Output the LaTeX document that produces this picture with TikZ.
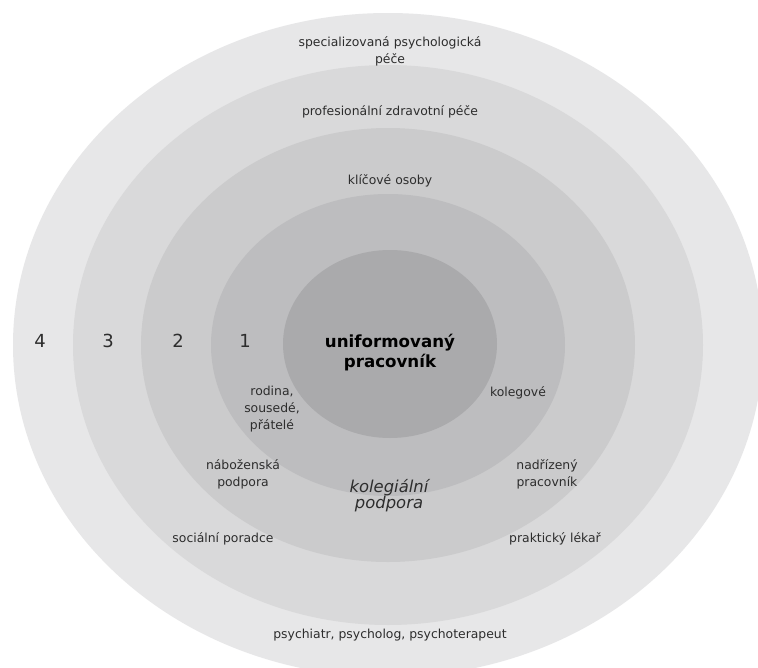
\documentclass[tikz,border=0pt]{standalone}
\usepackage{fontspec}
\setmainfont{DejaVu Sans}
\definecolor{ringfour}{RGB}{231,231,232}
\definecolor{ringthree}{RGB}{217,217,218}
\definecolor{ringtwo}{RGB}{203,203,204}
\definecolor{ringone}{RGB}{189,189,191}
\definecolor{core}{RGB}{170,170,172}
\definecolor{txt}{RGB}{45,45,45}
\begin{document}
\begin{tikzpicture}[x=0.75pt,y=-0.75pt,
  lbl/.style={text=txt,align=center,font=\fontsize{9.3}{12.5}\selectfont,inner sep=0pt},
  num/.style={text=txt,font=\fontsize{13.5}{14}\selectfont,inner sep=0pt}]
\useasboundingbox (0,0) rectangle (758,668);
\clip (0,0) rectangle (758,668);
\fill[white] (0,0) rectangle (758,668);
\coordinate (O) at (388,345);
\fill[ringfour] (O) ellipse [x radius=375, y radius=332];
\fill[ringthree] (O) ellipse [x radius=315, y radius=280];
\fill[ringtwo] (O) ellipse [x radius=247, y radius=217];
\fill[ringone] (O) ellipse [x radius=177, y radius=151];
\fill[core] (390,344) ellipse [x radius=107, y radius=94];
\node[align=center,inner sep=0pt,font=\fontsize{12.5}{15}\selectfont\bfseries] (worker) at (390,353) {uniformovaný\\pracovník};
\node[num] (n4) at (40,341) {4};
\node[num] (n3) at (108,341) {3};
\node[num] (n2) at (178,341) {2};
\node[num] (n1) at (245,341) {1};
\node[lbl] (spec) at (390,51) {specializovaná psychologická\\péče};
\node[lbl] (prof) at (390,112) {profesionální zdravotní péče};
\node[lbl] (key) at (390,181) {klíčové osoby};
\node[lbl] (family) at (272,409) {rodina,\\sousedé,\\přátelé};
\node[lbl] (colleagues) at (518,393) {kolegové};
\node[lbl] (religion) at (243,474) {náboženská\\podpora};
\node[lbl] (boss) at (547,474) {nadřízený\\pracovník};
\node[align=center,inner sep=0pt,text=txt,font=\fontsize{12.3}{12}\selectfont\itshape] (peer) at (389,496) {kolegiální\\podpora};
\node[lbl] (social) at (223,539) {sociální poradce};
\node[lbl] (gp) at (555,539) {praktický lékař};
\node[lbl] (psy) at (390,635) {psychiatr, psycholog, psychoterapeut};
\end{tikzpicture}
\end{document}
